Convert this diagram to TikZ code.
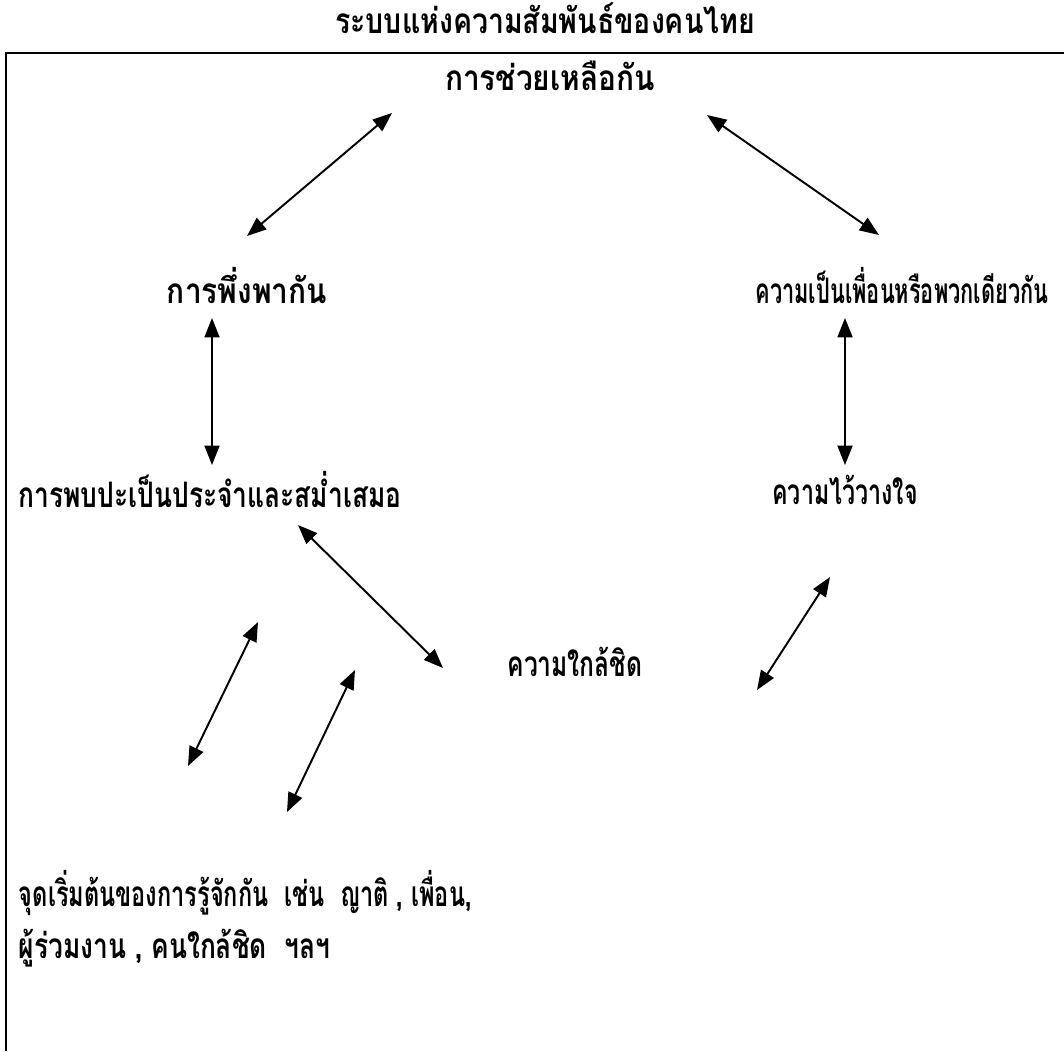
\documentclass[tikz,border=0pt]{standalone}
\usepackage{graphicx}
\usepackage{fontspec}
\newfontfamily\thaifont[Script=Thai]{Loma}
\usetikzlibrary{arrows.meta}
\newcommand{\thaisqueeze}[2]{\scalebox{#1}[1]{#2}}

\begin{document}
\begin{tikzpicture}[x=0.02cm, y=-0.02cm, >={Triangle[length=11pt,width=8.5pt]}, line width=1.1pt]
\tikzset{lbl/.style={font=\thaifont\bfseries\fontsize{20}{24}\selectfont, inner sep=0pt}}
\def\rowTop{76}
\def\rowTwo{286}
\def\rowThree{490}
\def\rowFour{662}
\useasboundingbox (0,0) rectangle (1064,1051);

%Title and frame
\node (title) at (545,18) [lbl] {\thaisqueeze{0.81}{ระบบแห่งความสัมพันธ์ของคนไทย}};
\draw [line width=0.8pt] (6,1051) |- (1064,53);

%Top
\node (help) at (550,\rowTop) [lbl] {\thaisqueeze{0.85}{การช่วยเหลือกัน}};

%Second level
\node (depend) at (247,\rowTwo) [lbl] {\thaisqueeze{0.85}{การพึ่งพากัน}};
\node (friend) at (902,\rowTwo) [lbl] {\thaisqueeze{0.62}{ความเป็นเพื่อนหรือพวกเดียวกัน}};

%Third level
\node (meet) at (210,\rowThree) [lbl] {\thaisqueeze{0.75}{การพบปะเป็นประจำและสม่ำเสมอ}};
\node (trust) at (845,\rowThree) [lbl] {\thaisqueeze{0.66}{ความไว้วางใจ}};

%Bottom
\node (close) at (575,\rowFour) [lbl] {\thaisqueeze{0.7}{ความใกล้ชิด}};
\node (start1) at (18,893) [lbl, anchor=west] {\thaisqueeze{0.67}{จุดเริ่มต้นของการรู้จักกัน~~เช่น~~ญาติ , เพื่อน,}};
\node (start2) at (18,948) [lbl, anchor=west] {\thaisqueeze{0.75}{ผู้ร่วมงาน , คนใกล้ชิด~~ฯลฯ}};

%Arrow ends
\coordinate (a1s) at (392,113); \coordinate (a1e) at (247,236);
\coordinate (a2s) at (707,115); \coordinate (a2e) at (879,235);
\coordinate (a3s) at (212,318); \coordinate (a3e) at (212,465);
\coordinate (a4s) at (845,318); \coordinate (a4e) at (845,465);
\coordinate (a5s) at (298,525); \coordinate (a5e) at (443,668);
\coordinate (a6s) at (830,577); \coordinate (a6e) at (757,690);
\coordinate (a7s) at (258,622); \coordinate (a7e) at (188,766);
\coordinate (a8s) at (355,670); \coordinate (a8e) at (287,812);

\draw[<->] (a1s) -- (a1e);
\draw[<->] (a2s) -- (a2e);
\draw[<->] (a3s) -- (a3e);
\draw[<->] (a4s) -- (a4e);
\draw[<->] (a5s) -- (a5e);
\draw[<->] (a6s) -- (a6e);
\draw[<->] (a7s) -- (a7e);
\draw[<->] (a8s) -- (a8e);

\end{tikzpicture}
\end{document}
